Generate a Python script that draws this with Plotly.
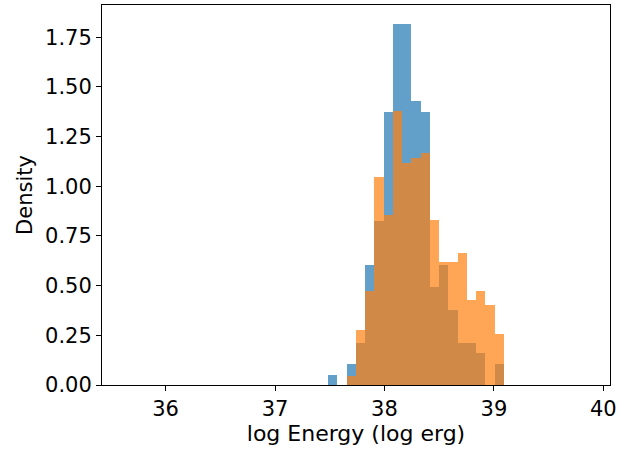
import plotly.graph_objects as go

# Histogram bin definition (common bins for both series)
bin_start = 35.627
bin_width = 0.0845
first_bin = 22  # index of first non-empty bin

# Density values per bin, starting at bin index `first_bin`
blue_density = [0.052, 0.0, 0.108, 0.2135, 0.602, 0.824, 1.375, 1.819, 1.819,
                1.430, 1.375, 0.491, 0.602, 0.380, 0.2135, 0.2135, 0.163, 0.0, 0.108]
orange_density = [0.0, 0.0, 0.0435, 0.279, 0.471, 1.047, 0.855, 1.380, 1.117,
                  1.144, 1.168, 0.829, 0.618, 0.618, 0.663, 0.426, 0.471, 0.401, 0.259]

x_ticks = [36, 37, 38, 39, 40]
y_ticks = [0.0, 0.25, 0.5, 0.75, 1.0, 1.25, 1.5, 1.75]

centers = [bin_start + (first_bin + i + 0.5) * bin_width for i in range(len(blue_density))]

fig = go.Figure()
fig.add_trace(go.Bar(x=centers, y=blue_density, width=bin_width,
                     marker=dict(color="rgba(31,119,180,0.7)", line=dict(width=0)),
                     showlegend=False))
fig.add_trace(go.Bar(x=centers, y=orange_density, width=bin_width,
                     marker=dict(color="rgba(255,127,14,0.7)", line=dict(width=0)),
                     showlegend=False))

font = dict(family="DejaVu Sans", size=21, color="black")
xtitle_font = dict(family="DejaVu Sans", size=22, color="black")
axis_common = dict(showline=True, linecolor="black", linewidth=1, mirror=True,
                   ticks="outside", ticklen=5, tickcolor="black", tickwidth=1,
                   showgrid=False, zeroline=False, tickfont=font)

fig.update_layout(
    width=637, height=453,
    margin=dict(l=102, r=27, t=5, b=68),
    paper_bgcolor="white", plot_bgcolor="white",
    barmode="overlay", bargap=0,
    font=font,
    xaxis=dict(range=[35.419, 40.061], tickvals=x_ticks,
               ticktext=[str(v) for v in x_ticks],
               title=dict(text="log Energy (log erg)", font=xtitle_font, standoff=4),
               **axis_common),
    yaxis=dict(range=[0, 1.9126], tickvals=y_ticks,
               ticktext=[f"{v:.2f}" for v in y_ticks],
               title=dict(text="Density", font=font, standoff=6),
               **axis_common),
)

fig.write_html("out.html")
